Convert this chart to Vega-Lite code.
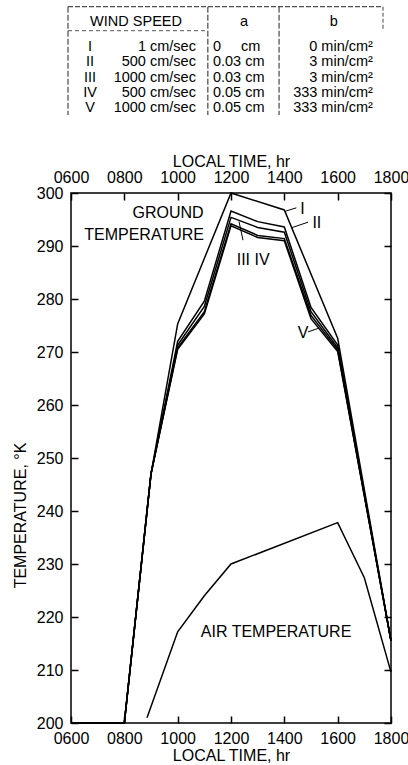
{
  "$schema": "https://vega.github.io/schema/vega-lite/v6.json",
  "background": "white",
  "padding": {"left": 11, "top": 0, "right": 0, "bottom": 0},
  "bounds": "flush",
  "spacing": 78,
  "config": {
    "font": "Liberation Sans",
    "view": {"stroke": null},
    "text": {"font": "Liberation Sans", "color": "black"},
    "axis": {
      "labelFont": "Liberation Sans",
      "titleFont": "Liberation Sans",
      "labelFontSize": 16,
      "titleFontSize": 16,
      "titleFontWeight": "normal",
      "labelColor": "black",
      "titleColor": "black",
      "domain": false,
      "tickColor": "black",
      "tickWidth": 1.5,
      "tickSize": 7,
      "offset": -7,
      "grid": false
    }
  },
  "datasets": {
    "windTable": [
      {"row": 1, "num": "I", "speed": "1 cm/sec", "a": "0\u00a0\u00a0\u00a0\u00a0\u00a0cm", "b": "0 min/cm²"},
      {"row": 2, "num": "II", "speed": "500 cm/sec", "a": "0.03 cm", "b": "3 min/cm²"},
      {"row": 3, "num": "III", "speed": "1000 cm/sec", "a": "0.03 cm", "b": "3 min/cm²"},
      {"row": 4, "num": "IV", "speed": "500 cm/sec", "a": "0.05 cm", "b": "333 min/cm²"},
      {"row": 5, "num": "V", "speed": "1000 cm/sec", "a": "0.05 cm", "b": "333 min/cm²"}
    ],
    "temps": [
      {"series": "I", "time": 6, "temp": 200},
      {"series": "I", "time": 8, "temp": 200},
      {"series": "I", "time": 9, "temp": 247},
      {"series": "I", "time": 10, "temp": 275.3},
      {"series": "I", "time": 12, "temp": 300},
      {"series": "I", "time": 14, "temp": 296.8},
      {"series": "I", "time": 16, "temp": 272.6},
      {"series": "I", "time": 18, "temp": 215.5},
      {"series": "II", "time": 6, "temp": 200},
      {"series": "II", "time": 8, "temp": 200},
      {"series": "II", "time": 9, "temp": 247},
      {"series": "II", "time": 10, "temp": 272},
      {"series": "II", "time": 11, "temp": 279.6},
      {"series": "II", "time": 12, "temp": 296.6},
      {"series": "II", "time": 13, "temp": 294.6},
      {"series": "II", "time": 14, "temp": 293.6},
      {"series": "II", "time": 15, "temp": 278.4},
      {"series": "II", "time": 16, "temp": 271.3},
      {"series": "II", "time": 18, "temp": 215.5},
      {"series": "III", "time": 6, "temp": 200},
      {"series": "III", "time": 8, "temp": 200},
      {"series": "III", "time": 9, "temp": 247},
      {"series": "III", "time": 10, "temp": 271.3},
      {"series": "III", "time": 11, "temp": 278.6},
      {"series": "III", "time": 12, "temp": 295.4},
      {"series": "III", "time": 13, "temp": 293.5},
      {"series": "III", "time": 14, "temp": 292.6},
      {"series": "III", "time": 15, "temp": 277.6},
      {"series": "III", "time": 16, "temp": 270.8},
      {"series": "III", "time": 18, "temp": 215.5},
      {"series": "IV", "time": 6, "temp": 200},
      {"series": "IV", "time": 8, "temp": 200},
      {"series": "IV", "time": 9, "temp": 247},
      {"series": "IV", "time": 10, "temp": 270.8},
      {"series": "IV", "time": 11, "temp": 277.6},
      {"series": "IV", "time": 12, "temp": 294.2},
      {"series": "IV", "time": 13, "temp": 292.0},
      {"series": "IV", "time": 14, "temp": 291.4},
      {"series": "IV", "time": 15, "temp": 276.9},
      {"series": "IV", "time": 16, "temp": 270.4},
      {"series": "IV", "time": 18, "temp": 215.5},
      {"series": "V", "time": 6, "temp": 200},
      {"series": "V", "time": 8, "temp": 200},
      {"series": "V", "time": 9, "temp": 247},
      {"series": "V", "time": 10, "temp": 270.5},
      {"series": "V", "time": 11, "temp": 277.2},
      {"series": "V", "time": 12, "temp": 293.8},
      {"series": "V", "time": 13, "temp": 291.6},
      {"series": "V", "time": 14, "temp": 291.0},
      {"series": "V", "time": 15, "temp": 276.3},
      {"series": "V", "time": 16, "temp": 270.1},
      {"series": "V", "time": 18, "temp": 215.5},
      {"series": "air", "time": 8.85, "temp": 201},
      {"series": "air", "time": 10, "temp": 217.2},
      {"series": "air", "time": 11, "temp": 224},
      {"series": "air", "time": 12, "temp": 230},
      {"series": "air", "time": 16, "temp": 237.8},
      {"series": "air", "time": 17, "temp": 227.4},
      {"series": "air", "time": 18, "temp": 209.6}
    ],
    "notes": [
      {"label": "GROUND", "time": 9.64, "temp": 296.2},
      {"label": "TEMPERATURE", "time": 8.74, "temp": 292.1},
      {"label": "I", "time": 14.68, "temp": 297.0},
      {"label": "II", "time": 15.22, "temp": 294.3},
      {"label": "III IV", "time": 12.83, "temp": 287.4},
      {"label": "V", "time": 14.7, "temp": 273.6},
      {"label": "AIR TEMPERATURE", "time": 13.69, "temp": 217.2}
    ],
    "leaders": [
      {"time": 14.0, "temp": 296.5, "time2": 14.45, "temp2": 297.2},
      {"time": 14.25, "temp": 293.4, "time2": 14.89, "temp2": 294.5},
      {"time": 12.3, "temp": 294.6, "time2": 12.45, "temp2": 291.1},
      {"time": 14.89, "temp": 273.8, "time2": 15.3, "temp2": 274.5}
    ]
  },
  "vconcat": [
    {
      "width": 312,
      "height": 115,
      "data": {"name": "windTable"},
      "layer": [
        {
          "mark": {"type": "text", "align": "center", "baseline": "middle", "fontSize": 14.5},
          "encoding": {
            "x": {"datum": 7.0, "type": "quantitative", "scale": {"domain": [0.95, 100], "nice": false, "zero": false}, "axis": null},
            "y": {"field": "row", "type": "quantitative", "scale": {"domain": [-2.023, 5.421], "nice": false, "zero": false, "reverse": true}, "axis": null},
            "text": {"field": "num"}
          }
        },
        {
          "mark": {"type": "text", "align": "right", "baseline": "middle", "fontSize": 14.5},
          "encoding": {
            "x": {"datum": 40.6, "type": "quantitative", "axis": null},
            "y": {"field": "row", "type": "quantitative", "axis": null},
            "text": {"field": "speed"}
          }
        },
        {
          "mark": {"type": "text", "align": "left", "baseline": "middle", "fontSize": 14.5},
          "encoding": {
            "x": {"datum": 46.0, "type": "quantitative", "axis": null},
            "y": {"field": "row", "type": "quantitative", "axis": null},
            "text": {"field": "a"}
          }
        },
        {
          "mark": {"type": "text", "align": "right", "baseline": "middle", "fontSize": 14.5},
          "encoding": {
            "x": {"datum": 96.8, "type": "quantitative", "axis": null},
            "y": {"field": "row", "type": "quantitative", "axis": null},
            "text": {"field": "b"}
          }
        },
        {
          "data": {"values": [{"label": "WIND SPEED"}]},
          "mark": {"type": "text", "align": "center", "baseline": "middle", "fontSize": 14.5},
          "encoding": {
            "x": {"datum": 21.6, "type": "quantitative", "axis": null},
            "y": {"datum": -0.618, "type": "quantitative", "axis": null},
            "text": {"field": "label"}
          }
        },
        {
          "data": {"values": [{"label": "a"}]},
          "mark": {"type": "text", "align": "center", "baseline": "middle", "fontSize": 14.5},
          "encoding": {
            "x": {"datum": 55.9, "type": "quantitative", "axis": null},
            "y": {"datum": -0.618, "type": "quantitative", "axis": null},
            "text": {"field": "label"}
          }
        },
        {
          "data": {"values": [{"label": "b"}]},
          "mark": {"type": "text", "align": "center", "baseline": "middle", "fontSize": 14.5},
          "encoding": {
            "x": {"datum": 84.4, "type": "quantitative", "axis": null},
            "y": {"datum": -0.618, "type": "quantitative", "axis": null},
            "text": {"field": "label"}
          }
        },
        {
          "data": {"values": [{}]},
          "mark": {"type": "rule", "color": "#222", "strokeWidth": 1, "strokeDash": [5, 2]},
          "encoding": {
            "x": {"datum": 0, "type": "quantitative", "axis": null},
            "x2": {"datum": 100},
            "y": {"datum": -1.589, "type": "quantitative", "axis": null}
          }
        },
        {
          "data": {"values": [{}]},
          "mark": {"type": "rule", "color": "#555", "strokeWidth": 1, "strokeDash": [4, 3]},
          "encoding": {
            "x": {"datum": 0, "type": "quantitative", "axis": null},
            "x2": {"datum": 44.4},
            "y": {"datum": -0.036, "type": "quantitative", "axis": null}
          }
        },
        {
          "data": {"values": [{"at": 0}, {"at": 44.4}, {"at": 67.0}]},
          "mark": {"type": "rule", "color": "#222", "strokeWidth": 1, "strokeDash": [6, 2]},
          "encoding": {
            "x": {"field": "at", "type": "quantitative", "axis": null},
            "y": {"datum": -1.589, "type": "quantitative", "axis": null},
            "y2": {"datum": 5.421}
          }
        },
        {
          "data": {"values": [{}]},
          "mark": {"type": "rule", "color": "#444", "strokeWidth": 1, "strokeDash": [4, 2]},
          "encoding": {
            "x": {"datum": 100, "type": "quantitative", "axis": null},
            "y": {"datum": -1.589, "type": "quantitative", "axis": null},
            "y2": {"datum": -0.036}
          }
        }
      ]
    },
    {
      "width": 320,
      "height": 530,
      "view": {"stroke": "black", "strokeWidth": 1.5},
      "data": {"name": "temps"},
      "layer": [
        {
          "transform": [{"filter": "datum.series !== 'air'"}],
          "mark": {"type": "line", "color": "black", "strokeWidth": 1.5},
          "encoding": {
            "x": {
              "field": "time", "type": "quantitative",
              "scale": {"domain": [6, 18], "nice": false, "zero": false},
              "axis": {
                "orient": "bottom", "values": [6, 8, 10, 12, 14, 16, 18],
                "labelExpr": "(datum.value < 10 ? '0' : '') + datum.value + '00'",
                "title": "LOCAL TIME, hr", "labelPadding": 7,
                "labelFlush": false, "titlePadding": 1
              }
            },
            "y": {
              "field": "temp", "type": "quantitative",
              "scale": {"domain": [200, 300], "nice": false, "zero": false},
              "axis": {
                "orient": "left", "values": [200, 210, 220, 230, 240, 250, 260, 270, 280, 290, 300],
                "title": "TEMPERATURE, °K", "labelPadding": 8, "titlePadding": 8,
                "titleY": 322
              }
            },
            "detail": {"field": "series"}
          }
        },
        {
          "transform": [{"filter": "datum.series === 'air'"}],
          "mark": {"type": "line", "color": "black", "strokeWidth": 1.5},
          "encoding": {
            "x": {
              "field": "time", "type": "quantitative",
              "axis": {
                "orient": "top", "values": [6, 8, 10, 12, 14, 16, 18],
                "labelExpr": "(datum.value < 10 ? '0' : '') + datum.value + '00'",
                "title": "LOCAL TIME, hr", "labelPadding": 8,
                "labelFlush": false, "titlePadding": 0
              }
            },
            "y": {
              "field": "temp", "type": "quantitative",
              "axis": {
                "orient": "right", "values": [200, 210, 220, 230, 240, 250, 260, 270, 280, 290, 300],
                "labels": false, "title": null
              }
            }
          }
        },
        {
          "data": {"name": "notes"},
          "mark": {"type": "text", "align": "center", "baseline": "middle", "fontSize": 16},
          "encoding": {
            "x": {"field": "time", "type": "quantitative", "axis": null},
            "y": {"field": "temp", "type": "quantitative", "axis": null},
            "text": {"field": "label"}
          }
        },
        {
          "data": {"name": "leaders"},
          "mark": {"type": "rule", "color": "black", "strokeWidth": 1},
          "encoding": {
            "x": {"field": "time", "type": "quantitative", "axis": null},
            "x2": {"field": "time2"},
            "y": {"field": "temp", "type": "quantitative", "axis": null},
            "y2": {"field": "temp2"}
          }
        }
      ],
      "resolve": {"axis": {"x": "independent", "y": "independent"}}
    }
  ]
}
